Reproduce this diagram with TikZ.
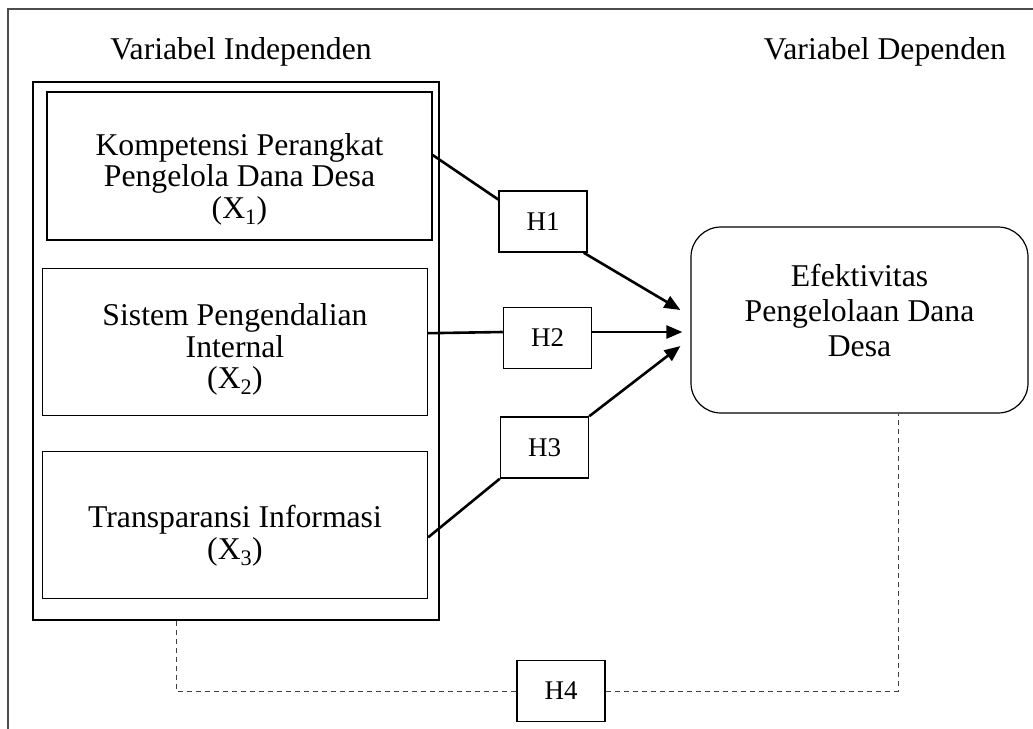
\documentclass[tikz,border=0pt]{standalone}
\usepackage{fontspec}
\setmainfont{Liberation Serif}
\usetikzlibrary{positioning,arrows.meta}

\tikzset{
  varbox/.style={draw, line width=1.2pt, minimum width=385pt, minimum height=148pt,
    align=center, inner sep=0pt, font=\fontsize{31.7}{31.5}\selectfont},
  groupbox/.style={draw, line width=1.2pt, minimum width=406pt, minimum height=538pt, inner sep=0pt},
  hypbox/.style={draw, line width=1.5pt, minimum width=88pt, minimum height=61pt,
    inner sep=0pt, font=\fontsize{27}{30}\selectfont},
  depbox/.style={draw, line width=1.2pt, rounded corners=30pt, minimum width=337pt,
    minimum height=186pt, align=center, font=\fontsize{31.7}{35}\selectfont},
  lbl/.style={font=\fontsize{31.7}{36}\selectfont},
  link/.style={line width=2.6pt},
  effect/.style={line width=2.6pt, -{Triangle[length=16pt,width=13pt]}},
  joint/.style={draw=black!75, line width=1pt, dash pattern=on 5pt off 4pt}
}

\begin{document}
\begin{tikzpicture}[x=1pt,y=-1pt]
  \useasboundingbox (0,0) rectangle (1033,728);
  % frame
  \draw[black!70, line width=1.2pt] (8,740) -- (8,9) -- (1040,9);

  \node[lbl] (tindep) at (241,52) {Variabel Independen};
  \node[lbl] (tdep)   at (885,52) {Variabel Dependen};

  \node[groupbox] (indep) at (236,351) {};
  \node[varbox] (x1) at (239.5,166) {\rule{0pt}{48pt}Kompetensi Perangkat\\Pengelola Dana Desa\\(X\textsubscript{1})};
  \node[varbox, minimum height=147pt] (x2) [below=27pt of x1, xshift=-4.5pt] {\rule{0pt}{38pt}Sistem Pengendalian\\Internal\\(X\textsubscript{2})};
  \node[varbox, minimum height=147pt] (x3) [below=35pt of x2] {\rule{0pt}{44pt}Transparansi Informasi\\(X\textsubscript{3})};

  \node[depbox] (dep) at (859.5,320) {Efektivitas\\Pengelolaan Dana\\Desa\rule[-20pt]{0pt}{20pt}};

  \node[hypbox] (h1) at (543,221.5) {H1};
  \node[hypbox] (h2) at (547.5,338) {H2};
  \node[hypbox] (h3) at (544.5,447.5) {H3};
  \node[hypbox] (h4) at (561,691) {H4};

  \coordinate (t1) at ([xshift=-10pt,yshift=10pt]dep.west);
  \coordinate (t2) at ([xshift=-8pt,yshift=-12pt]dep.west);
  \coordinate (t3) at ([xshift=-10pt,yshift=-26pt]dep.west);

  \draw[link]   ([yshift=11pt]x1.east) -- ([yshift=22pt]h1.west);
  \draw[effect] ([xshift=-4pt]h1.south east) -- (t1);
  \draw[link]   ([yshift=8.5pt]x2.east) -- ([yshift=6pt]h2.west);
  \draw[effect] ([yshift=6pt]h2.east) -- (t2);
  \draw[link]   ([yshift=-12.5pt]x3.east) -- (h3.south west);
  \draw[effect] (h3.north east) -- (t3);

  \draw[joint] ([xshift=-60pt]indep.south) |- (h4.west);
  \draw[joint] (h4.east) -| ([xshift=38.5pt]dep.south);
\end{tikzpicture}
\end{document}
